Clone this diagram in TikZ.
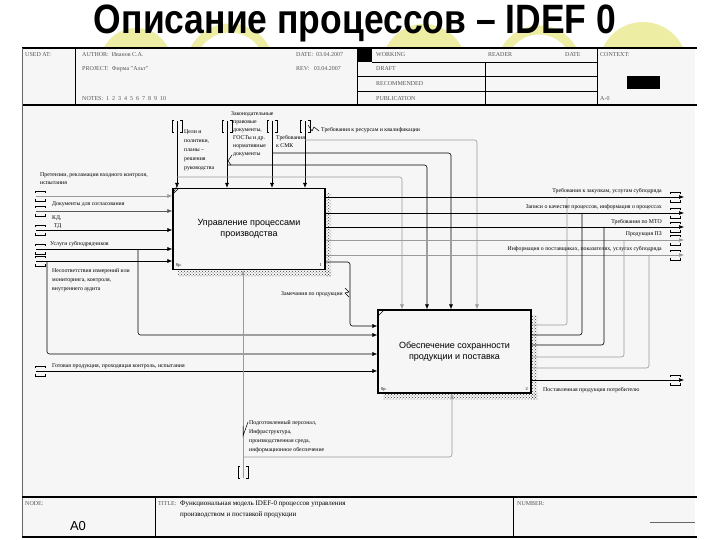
\documentclass[tikz,border=0pt]{standalone}
\usepackage{fontspec}
\setmainfont{Liberation Serif}
\newfontfamily\sansf{Liberation Sans}
\usetikzlibrary{arrows.meta,patterns}
\definecolor{yel}{HTML}{EDEDA4}
\definecolor{bg}{HTML}{F6F6F6}
\definecolor{lg}{HTML}{9A9A9A}
\definecolor{htx}{HTML}{555555}
\tikzset{
  box/.style={draw, line width=1.2pt, fill=bg, align=center, inner sep=0,
    font=\sansf\fontsize{9}{11.5}\selectfont},
  arr/.style={line width=0.6pt, rounded corners=2.5pt, -{Latex[length=5pt,width=4pt]}},
  ln/.style={line width=0.6pt, rounded corners=2.5pt},
  grey/.style={draw=lg},
  lbl/.style={font=\fontsize{5.8}{7}\selectfont, inner sep=0, anchor=base west},
  hdr/.style={font=\fontsize{6}{7}\selectfont, inner sep=0, anchor=base west, text=htx},
  frm/.style={line width=1.2pt},
  thin/.style={line width=0.5pt},
  htun/.pic={\draw[line width=0.5pt] (-5,-3) -- (-5,-5) -- (5,-5) -- (5,-3)
                                     (-5,3) -- (-5,5) -- (5,5) -- (5,3);},
  vtun/.pic={\draw[line width=0.5pt] (-3,-6) -- (-5,-6) -- (-5,6) -- (-3,6)
                                     (3,-6) -- (5,-6) -- (5,6) -- (3,6);},
  shad/.style={pattern=crosshatch dots, pattern color=black!75},
}
\begin{document}
\begin{tikzpicture}[x=1pt,y=-1pt]
\useasboundingbox (0,0) rectangle (720,540);
\fill[white] (0,0) rectangle (720,540);
% decorative circles
\fill[yel] (136,64) circle (36);
\draw[yel, line width=9pt] (230,68) circle (40);
\fill[yel] (424,66) circle (42);
\draw[yel, line width=9pt] (539,68) circle (38);
\fill[yel] (643,66) circle (44);
% title
\node[font=\sansf\bfseries\fontsize{41}{43}\selectfont, anchor=base, inner sep=0] (title) at (355,34)
  {\scalebox{0.865}[1]{Описание процессов – IDEF 0}};
% frame background
\fill[bg] (22,48) rectangle (695,537);
% header
\draw[frm] (22,48) -- (697,48);
\draw[frm] (22,105) -- (697,105);
\draw[thin, draw=black!60] (22,48) -- (22,537);
\draw[thin] (75,48) -- (75,105);
\draw[thin] (357,48) -- (357,105);
\draw[thin] (597,48) -- (597,105);
\draw[thin] (485,62) -- (485,105);
\fill (357,48) rectangle (372,62);
\draw[thin] (372,62) -- (597,62);
\draw[thin] (357,76) -- (597,76);
\draw[thin] (357,91) -- (597,91);
\fill (627,76) rectangle (660,89);
\node[hdr] (h1) at (25,57) {USED AT:};
\node[hdr] (h2) at (82,57) {AUTHOR:\ \ Иванов С.А.};
\node[hdr] (h3) at (296,57) {DATE:\ \ 03.04.2007};
\node[hdr] (h4) at (82,71) {PROJECT:\ \ Фирма "Альт"};
\node[hdr] (h5) at (296,71) {REV:\ \ \ 03.04.2007};
\node[hdr] (h6) at (82,101) {NOTES:\ \ 1\ \ 2\ \ 3\ \ 4\ \ 5\ \ 6\ \ 7\ \ 8\ \ 9\ \ 10};
\node[hdr] (h7) at (376,57) {WORKING};
\node[hdr] (h8) at (376,71) {DRAFT};
\node[hdr] (h9) at (376,86) {RECOMMENDED};
\node[hdr] (h10) at (376,101) {PUBLICATION};
\node[hdr] (h11) at (488,57) {READER};
\node[hdr] (h12) at (565,57) {DATE};
\node[hdr] (h13) at (600,57) {CONTEXT:};
\node[hdr] (h14) at (600,101) {A-0};
% footer
\draw[frm] (22,497) -- (697,497);
\draw[frm] (22,537) -- (697,537);
\draw[thin] (155,497) -- (155,537);
\draw[thin] (513,497) -- (513,537);
\draw[thin, draw=black!60] (650,522) -- (695,522);
\node[hdr] (f1) at (25,505) {NODE:};
\node[font=\sansf\fontsize{13}{15}\selectfont, inner sep=0] (f2) at (78,526) {A0};
\node[hdr] (f3) at (158,505) {TITLE:};
\node[lbl, font=\fontsize{7}{8}\selectfont] (f4) at (180,505) {Функциональная модель IDEF-0 процессов управления};
\node[lbl, font=\fontsize{7}{8}\selectfont] (f5) at (180,516) {производством и поставкой продукции};
\node[hdr] (f6) at (517,505) {NUMBER:};
% boxes
\fill[shad] (325,193) rectangle (331,276);
\fill[shad] (178,270) rectangle (331,276);
\fill[shad] (531,315) rectangle (537,399);
\fill[shad] (383,393) rectangle (537,399);
\node[box, minimum width=152pt, minimum height=81pt] (b1) at (249,229)
  {Управление процессами\\производства};
\node[box, minimum width=153pt, minimum height=83pt] (b2) at (454.5,351.5)
  {Обеспечение сохранности\\продукции и поставка};
\draw[thin] (173,194) -- (179,188);
\draw[thin] (378,316) -- (384,310);
\node[lbl, font=\fontsize{4.5}{5}\selectfont] (b1c) at (176,266) {0р.};
\node[lbl, font=\fontsize{4.5}{5}\selectfont, anchor=base east] (b1n) at (322,266) {1};
\node[lbl, font=\fontsize{4.5}{5}\selectfont] (b2c) at (381,390) {0р.};
\node[lbl, font=\fontsize{4.5}{5}\selectfont, anchor=base east] (b2n) at (528,390) {2};
% coordinates
\coordinate (i1) at (36,196);
\coordinate (i2) at (36,211);
\coordinate (i3) at (36,230);
\coordinate (i4) at (36,249);
\coordinate (i5) at (36,261);
\coordinate (i6) at (36,371);
\coordinate (f4a) at (138,249);
\coordinate (f4b) at (138,335);
\coordinate (f5a) at (47,261);
\coordinate (f5b) at (47,354);
\coordinate (fb) at (350,262);
\coordinate (fc) at (350,326);
\coordinate (c1) at (177,121);
\coordinate (c2) at (227,121);
\coordinate (c3) at (272,121);
\coordinate (c4) at (305,121);
\coordinate (k1) at (402,177);
\coordinate (k2) at (427,165);
\coordinate (k3) at (451,153);
\coordinate (k4) at (477,140);
\coordinate (m) at (243,478);
\coordinate (mf) at (243,457);
\coordinate (k5) at (452,457);
\coordinate (o1) at (684,197);
\coordinate (o2) at (684,213);
\coordinate (o3) at (684,227);
\coordinate (o4) at (684,240);
\coordinate (o5) at (684,255);
\coordinate (o6) at (684,380);
\coordinate (j1) at (567,325);
\coordinate (j2) at (582,335);
\coordinate (j3) at (604,345);
\coordinate (j4) at (624,357);
\coordinate (j5) at (649,368);
% inputs to box 1
\draw[arr,grey] (i1) -- (b1.west |- i1);
\draw[arr,draw=black!65] (i2) -- (b1.west |- i2);
\draw[arr] (i3) -- (b1.west |- i3);
\draw[arr] (i4) -- (b1.west |- i4);
\draw[arr] (i5) -- (b1.west |- i5);
% inputs to box 2
\draw[arr] (f4a) -- (f4b) -- (b2.west |- f4b);
\draw[arr] (f5a) -- (f5b) -- (b2.west |- f5b);
\draw[arr] (i6) -- (b2.west |- i6);
\draw[arr] (b1.east |- fb) -- (fb) -- (fc) -- (b2.west |- fc);
% controls
\draw[arr] (c1) -- (c1 |- b1.north);
\draw[arr] (c2) -- (c2 |- b1.north);
\draw[arr] (c3) -- (c3 |- b1.north);
\draw[arr] (c4) -- (c4 |- b1.north);
\draw[arr,grey] (c1 |- k1) -- (k1) -- (k1 |- b2.north);
\draw[arr] (c2 |- k2) -- (k2) -- (k2 |- b2.north);
\draw[arr] (c3 |- k3) -- (k3) -- (k3 |- b2.north);
\draw[arr,grey] (c4 |- k4) -- (k4) -- (k4 |- b2.north);
% mechanisms
\draw[arr,grey] (m) -- (m |- b1.south);
\draw[arr,grey] (mf) -- (k5) -- (k5 |- b2.south);
% outputs box 1
\draw[arr] (b1.east |- o1) -- (o1);
\draw[arr] (b1.east |- o2) -- (o2);
\draw[arr] (b1.east |- o3) -- (o3);
\draw[arr,grey] (b1.east |- o4) -- (o4);
\draw[arr,grey] (b1.east |- o5) -- (o5);
% outputs box 2
\draw[ln,grey] (b2.east |- j1) -- (j1) -- (j1 |- o1);
\draw[ln] (b2.east |- j2) -- (j2) -- (j2 |- o2);
\draw[ln] (b2.east |- j3) -- (j3) -- (j3 |- o3);
\draw[ln,grey] (b2.east |- j4) -- (j4) -- (j4 |- o4);
\draw[ln,grey] (b2.east |- j5) -- (j5) -- (j5 |- o5);
\draw[arr] (b2.east |- o6) -- (o6);
% tunnels
\foreach \p in {i1,i2,i3,i4,i5,i6} { \pic at ([xshift=4pt]\p) {htun}; }
\foreach \p in {o1,o2,o3,o4,o5,o6} { \pic at ([xshift=-9pt]\p) {htun}; }
\foreach \p in {c1,c2,c3,c4} { \pic at ([yshift=-5pt]\p) {vtun}; }
\pic at ([yshift=6pt]m) {vtun};
% label squiggles
\draw[thin] (172,195) -- (177,186);
\draw[thin] (308,125) -- (312,131) -- (314,127) -- (319,131);
\draw[thin] (345,288) -- (349,292) -- (345,293) -- (349,297);
\draw[thin] (248,422) -- (243,436) -- (243,426);
\draw[thin] (232,155) -- (228,161) -- (231,165);
% labels
\node[lbl] (l1) at (40,177) {Претензии, рекламации входного контроля,};
\node[lbl] (l1b) at (40,185) {испытания};
\node[lbl] (l2) at (52,206) {Документы для согласования};
\node[lbl] (l3) at (52,219) {КД,};
\node[lbl] (l3b) at (54,227) {ТД};
\node[lbl] (l4) at (50,245) {Услуги субподрядчиков};
\node[lbl] (l5) at (52,272) {Несоответствия измерений или};
\node[lbl] (l5b) at (52,281) {мониторинга, контроля,};
\node[lbl] (l5c) at (52,290) {внутреннего аудита};
\node[lbl] (l6) at (52,367) {Готовая продукция, проходящая контроль, испытания};
\node[lbl, anchor=base east] (l7) at (343,295) {Замечания по продукции};
\node[lbl] (lc1) at (184,134) {Цели и};
\node[lbl] (lc1b) at (184,143) {политики,};
\node[lbl] (lc1c) at (184,152) {планы –};
\node[lbl] (lc1d) at (184,161) {решения};
\node[lbl] (lc1e) at (184,170) {руководства};
\node[lbl] (lc2) at (231,116) {Законодательные};
\node[lbl] (lc2b) at (233,124) {правовые};
\node[lbl] (lc2c) at (233,132) {документы,};
\node[lbl] (lc2d) at (233,140) {ГОСТы и др.};
\node[lbl] (lc2e) at (233,148) {нормативные};
\node[lbl] (lc2f) at (233,156) {документы};
\node[lbl] (lc3) at (276,140) {Требования};
\node[lbl] (lc3b) at (276,148) {к СМК};
\node[lbl] (lc4) at (321,132) {Требования к ресурсам и квалификации};
\node[lbl] (lm1) at (249,424) {Подготовленный персонал,};
\node[lbl] (lm2) at (249,433) {Инфраструктура,};
\node[lbl] (lm3) at (249,442) {производственная среда,};
\node[lbl] (lm4) at (249,451) {информационное обеспечение};
\node[lbl, anchor=base east] (lo1) at (662,193) {Требования к закупкам, услугам субподряда};
\node[lbl, anchor=base east] (lo2) at (662,209) {Записи о качестве процессов, информация о процессах};
\node[lbl, anchor=base east] (lo3) at (662,223) {Требования по МТО};
\node[lbl, anchor=base east] (lo4) at (662,236) {Продукция ПЗ};
\node[lbl, anchor=base east] (lo5) at (662,251) {Информация о поставщиках, показателях, услугах субподряда};
\node[lbl] (lo6) at (543,391) {Поставленная продукция потребителю};
\end{tikzpicture}
\end{document}
